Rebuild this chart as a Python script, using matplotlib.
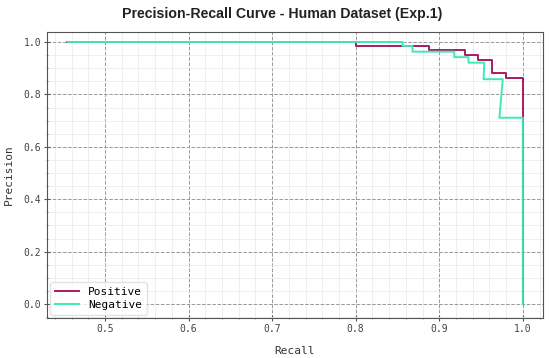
import numpy as np
import matplotlib
matplotlib.use("Agg")
import matplotlib.pyplot as plt
from matplotlib.ticker import AutoMinorLocator

# PR curve points
recall_pos = [0.455, 0.800, 0.800, 0.888, 0.888, 0.931, 0.931, 0.946, 0.946,
              0.963, 0.963, 0.980, 0.980, 1.000, 1.000]
precision_pos = [1.000, 1.000, 0.985, 0.985, 0.968, 0.968, 0.950, 0.950, 0.931,
                 0.931, 0.880, 0.880, 0.862, 0.862, 0.000]

recall_neg = [0.455, 0.856, 0.856, 0.868, 0.868, 0.918, 0.918, 0.935, 0.935,
              0.954, 0.953, 0.976, 0.972, 1.000, 1.000]
precision_neg = [1.000, 1.000, 0.985, 0.985, 0.963, 0.963, 0.942, 0.942, 0.921,
                 0.921, 0.858, 0.858, 0.711, 0.711, 0.000]

labels = ["Positive", "Negative"]
colors = ["#a91c5f", "#3fe8b8"]

mono = "DejaVu Sans Mono"

fig, ax = plt.subplots(figsize=(5.5, 3.58), dpi=100)
fig.subplots_adjust(left=0.0855, right=0.987, top=0.9106, bottom=0.1117)

ax.plot(recall_pos, precision_pos, color=colors[0], lw=1.4, label=labels[0])
ax.plot(recall_neg, precision_neg, color=colors[1], lw=1.4, label=labels[1])

ax.set_xlim(0.4306, 1.024)
ax.set_ylim(-0.053, 1.038)

ax.xaxis.set_minor_locator(AutoMinorLocator())
ax.yaxis.set_minor_locator(AutoMinorLocator())
ax.grid(which="major", ls="--", color="#999999", lw=0.7)
ax.grid(which="minor", ls="-", color="#ececec", lw=0.6)
ax.set_axisbelow(True)

ax.tick_params(which="major", labelsize=7, length=4, direction="inout",
               pad=2, color="#555555", labelcolor="#444444")
ax.tick_params(which="minor", length=2, direction="inout", color="#888888")
for lab in ax.get_xticklabels() + ax.get_yticklabels():
    lab.set_family(mono)
for s in ax.spines.values():
    s.set_color("#555555")
    s.set_linewidth(0.8)

ax.set_xlabel("Recall", family=mono, fontsize=8, labelpad=9, color="#333333")
ax.set_ylabel("Precision", family=mono, fontsize=8, labelpad=7, color="#333333")
ax.set_title("Precision-Recall Curve - Human Dataset (Exp.1)",
             family="Liberation Sans", fontweight="bold", fontsize=10.2,
             pad=10, color="#222222", x=0.474)

leg = ax.legend(loc="lower left", prop={"family": mono, "size": 8},
                handlelength=2.2, borderpad=0.4, labelspacing=0.3,
                borderaxespad=0.3)
leg.get_frame().set_edgecolor("#dddddd")

fig.savefig("out.png", dpi=100)
